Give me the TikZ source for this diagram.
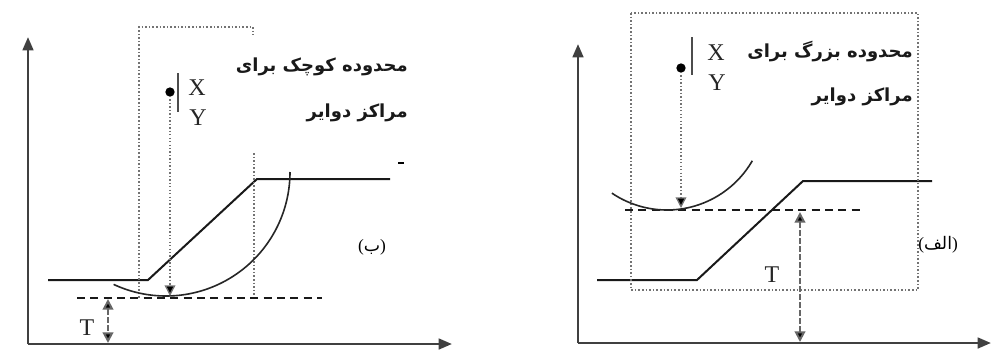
\documentclass[tikz,border=0pt]{standalone}
\usepackage{fontspec}
\setmainfont{Liberation Serif}
\newfontfamily\arabicfont[Script=Arabic]{DejaVu Sans}
\TeXXeTstate=1
\usetikzlibrary{arrows.meta}
\begin{document}
\begin{tikzpicture}[x=0.75pt,y=-0.75pt,
  axis/.style={line width=1.9pt, draw=black!75, -{Triangle[length=10pt,width=8pt]}},
  ground/.style={line width=1.5pt, draw=black!90},
  dotbox/.style={line width=1.4pt, dash pattern=on 1.2pt off 1.5pt, draw=black!55},
  dashln/.style={line width=2pt, dash pattern=on 6pt off 4pt, draw=black!90},
  slip/.style={line width=1.2pt, draw=black!85},
  drop/.style={line width=1pt, dash pattern=on 1pt off 1.6pt, draw=black!55, -{Triangle[length=8pt,width=8pt,fill=black]}},
  tarrow/.style={line width=1.5pt, dash pattern=on 4pt off 2pt, draw=black!60, {Triangle[length=8pt,width=8pt,fill=black]}-{Triangle[length=8pt,width=8pt,fill=black]}},
  lbl/.style={font=\fontsize{18}{18}\selectfont, text=black!85, inner sep=0pt},
  fa/.style={font=\arabicfont\bfseries\fontsize{13.5}{13.5}\selectfont, text=black!90, inner sep=0pt, anchor=east},
  centre/.style={circle, fill=black, inner sep=0pt, minimum size=7pt}]
\useasboundingbox (0,0) rectangle (992,354);

% ---------------- left panel (b) ----------------
\coordinate (LO) at (28,344);
\coordinate (LYtop) at (28,37);
\coordinate (LXend) at (452,344);
\draw[axis] (LO) -- (LYtop);
\draw[axis] (LO) -- (LXend);

\coordinate (Lg1) at (48,280);
\coordinate (Lg2) at (148,280);
\coordinate (Lg3) at (257,179);
\coordinate (Lg4) at (390,179);
\draw[ground] (Lg1) -- (Lg2) -- (Lg3) -- (Lg4);
\coordinate (Lm1) at (398,163);
\coordinate (Lm2) at (404,163);
\draw[line width=0.8pt] (Lm1) -- (Lm2);

% dotted search box (right side hidden behind text)
\coordinate (Lb1) at (139,298);
\coordinate (Lb2) at (139,27);
\coordinate (Lb3) at (253,27);
\coordinate (Lb4) at (253,35);
\coordinate (Lb5) at (254,153);
\coordinate (Lb6) at (254,298);
\draw[dotbox] (Lb1) -- (Lb2) -- (Lb3) -- (Lb4);
\draw[dotbox] (Lb5) -- (Lb6);

% tangent (dashed) line
\coordinate (Ld1) at (77,298);
\coordinate (Ld2) at (322,298);
\draw[dashln] (Ld1) -- (Ld2);

% slip circle
\draw[slip] plot[domain=-115:0, samples=80] ({166+124*cos(\x)}, {172-124*sin(\x)});

% circle centre and drop line
\node[centre] (Lc) at (170,92) {};
\coordinate (Lc0) at (170,96);
\coordinate (Lct) at (170,296);
\draw[drop] (Lc0) -- (Lct);
\coordinate (Lbar1) at (178,73);
\coordinate (Lbar2) at (178,112);
\draw[line width=1.3pt, draw=black!70] (Lbar1) -- (Lbar2);
\node[lbl] (LX) at (197,88) {X};
\node[lbl] (LY) at (198,118) {Y};

% labels
\node[fa] (Lt1) at (408,67) {\beginR محدوده کوچک برای\endR};
\node[fa] (Lt2) at (408,113) {\beginR مراکز دوایر\endR};
\node[font=\fontsize{13}{13}\selectfont, inner sep=0pt] (Lcap) at (372,247) {({\arabicfont\beginR ب\endR})};

% T
\coordinate (LT1) at (108,299);
\coordinate (LT2) at (108,343);
\draw[tarrow] (LT1) -- (LT2);
\node[lbl] (LT) at (87,328) {T};

% ---------------- right panel (alef) ----------------
\coordinate (RO) at (578,343);
\coordinate (RYtop) at (578,44);
\coordinate (RXend) at (991,343);
\draw[axis] (RO) -- (RYtop);
\draw[axis] (RO) -- (RXend);

\coordinate (Rg1) at (597,280);
\coordinate (Rg2) at (697,280);
\coordinate (Rg3) at (803,181);
\coordinate (Rg4) at (932,181);
\draw[ground] (Rg1) -- (Rg2) -- (Rg3) -- (Rg4);

\coordinate (Rb1) at (631,13);
\coordinate (Rb2) at (918,290);
\draw[dotbox] (Rb1) rectangle (Rb2);

\coordinate (Rd1) at (625,210);
\coordinate (Rd2) at (862,210);
\draw[dashln] (Rd1) -- (Rd2);

\draw[slip] plot[domain=-124:-30, samples=80] ({667+98.5*cos(\x)}, {111.5-98.5*sin(\x)});

\node[centre] (Rc) at (681,68) {};
\coordinate (Rc0) at (681,72);
\coordinate (Rct) at (681,208);
\draw[drop] (Rc0) -- (Rct);
\coordinate (Rbar1) at (692,37);
\coordinate (Rbar2) at (692,75);
\draw[line width=1.3pt, draw=black!70] (Rbar1) -- (Rbar2);
\node[lbl] (RX) at (716,53) {X};
\node[lbl] (RY) at (717,83) {Y};

\node[fa] (Rt1) at (913,52) {\beginR محدوده بزرگ برای\endR};
\node[fa] (Rt2) at (913,97) {\beginR مراکز دوایر\endR};
\node[font=\fontsize{13}{13}\selectfont, inner sep=0pt, anchor=west] (Rcap) at (918,245) {({\arabicfont\beginR الف\endR})};

\coordinate (RT1) at (800,212);
\coordinate (RT2) at (800,342);
\draw[tarrow] (RT1) -- (RT2);
\node[lbl] (RT) at (772,275) {T};
\end{tikzpicture}
\end{document}
